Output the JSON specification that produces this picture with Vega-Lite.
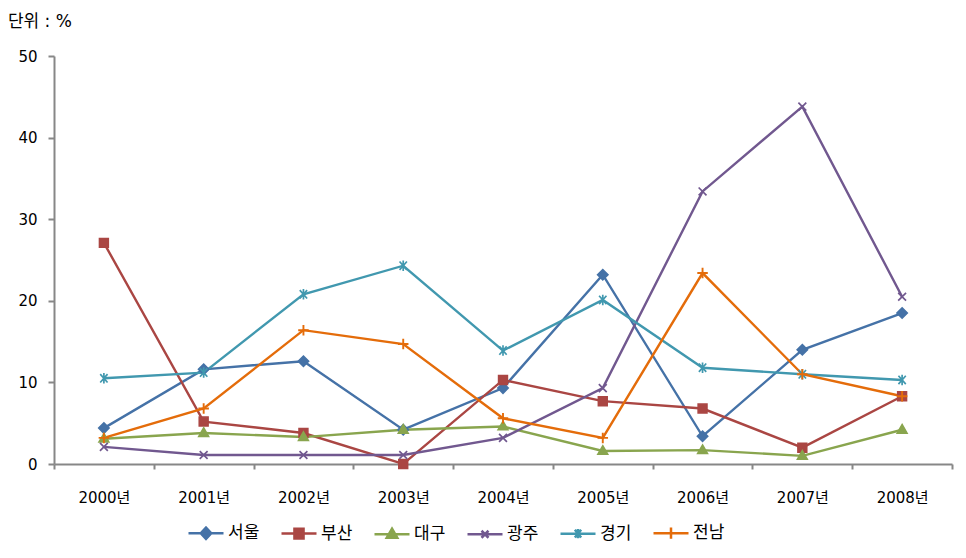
{
  "$schema": "https://vega.github.io/schema/vega-lite/v6.json",
  "width": 898,
  "height": 408,
  "autosize": "none",
  "padding": {"left": 54, "top": 56, "right": 14, "bottom": 94},
  "background": "white",
  "title": {
    "text": "단위 : %",
    "anchor": "start",
    "frame": "bounds",
    "dx": -10,
    "offset": 18,
    "fontSize": 17,
    "fontWeight": "normal",
    "font": "DejaVu Sans, Noto Sans CJK KR",
    "color": "#000000"
  },
  "config": {
    "view": {"stroke": null},
    "font": "DejaVu Sans, Noto Sans CJK KR"
  },
  "data": {
    "values": [
      {"year": "2000년", "region": "서울", "value": 4.4},
      {"year": "2001년", "region": "서울", "value": 11.6},
      {"year": "2002년", "region": "서울", "value": 12.6},
      {"year": "2003년", "region": "서울", "value": 4.2},
      {"year": "2004년", "region": "서울", "value": 9.3},
      {"year": "2005년", "region": "서울", "value": 23.2},
      {"year": "2006년", "region": "서울", "value": 3.4},
      {"year": "2007년", "region": "서울", "value": 14.0},
      {"year": "2008년", "region": "서울", "value": 18.5},
      {"year": "2000년", "region": "부산", "value": 27.1},
      {"year": "2001년", "region": "부산", "value": 5.2},
      {"year": "2002년", "region": "부산", "value": 3.8},
      {"year": "2003년", "region": "부산", "value": 0.0},
      {"year": "2004년", "region": "부산", "value": 10.3},
      {"year": "2005년", "region": "부산", "value": 7.7},
      {"year": "2006년", "region": "부산", "value": 6.8},
      {"year": "2007년", "region": "부산", "value": 2.0},
      {"year": "2008년", "region": "부산", "value": 8.3},
      {"year": "2000년", "region": "대구", "value": 3.1},
      {"year": "2001년", "region": "대구", "value": 3.8},
      {"year": "2002년", "region": "대구", "value": 3.3},
      {"year": "2003년", "region": "대구", "value": 4.2},
      {"year": "2004년", "region": "대구", "value": 4.6},
      {"year": "2005년", "region": "대구", "value": 1.6},
      {"year": "2006년", "region": "대구", "value": 1.7},
      {"year": "2007년", "region": "대구", "value": 1.0},
      {"year": "2008년", "region": "대구", "value": 4.2},
      {"year": "2000년", "region": "광주", "value": 2.1},
      {"year": "2001년", "region": "광주", "value": 1.1},
      {"year": "2002년", "region": "광주", "value": 1.1},
      {"year": "2003년", "region": "광주", "value": 1.1},
      {"year": "2004년", "region": "광주", "value": 3.2},
      {"year": "2005년", "region": "광주", "value": 9.3},
      {"year": "2006년", "region": "광주", "value": 33.4},
      {"year": "2007년", "region": "광주", "value": 43.8},
      {"year": "2008년", "region": "광주", "value": 20.5},
      {"year": "2000년", "region": "경기", "value": 10.5},
      {"year": "2001년", "region": "경기", "value": 11.2},
      {"year": "2002년", "region": "경기", "value": 20.8},
      {"year": "2003년", "region": "경기", "value": 24.3},
      {"year": "2004년", "region": "경기", "value": 13.9},
      {"year": "2005년", "region": "경기", "value": 20.1},
      {"year": "2006년", "region": "경기", "value": 11.8},
      {"year": "2007년", "region": "경기", "value": 11.0},
      {"year": "2008년", "region": "경기", "value": 10.3},
      {"year": "2000년", "region": "전남", "value": 3.2},
      {"year": "2001년", "region": "전남", "value": 6.8},
      {"year": "2002년", "region": "전남", "value": 16.4},
      {"year": "2003년", "region": "전남", "value": 14.7},
      {"year": "2004년", "region": "전남", "value": 5.6},
      {"year": "2005년", "region": "전남", "value": 3.2},
      {"year": "2006년", "region": "전남", "value": 23.4},
      {"year": "2007년", "region": "전남", "value": 11.0},
      {"year": "2008년", "region": "전남", "value": 8.3}
    ]
  },
  "encoding": {
    "x": {
      "field": "year",
      "type": "nominal",
      "sort": null,
      "scale": {"paddingInner": 0, "paddingOuter": 0},
      "axis": {
        "title": null,
        "labelAngle": 0,
        "tickBand": "extent",
        "domainColor": "#878787",
        "domainWidth": 2,
        "tickColor": "#878787",
        "tickWidth": 2,
        "tickSize": 5,
        "labelPadding": 21,
        "labelFontSize": 15,
        "labelColor": "#000000",
        "labelFont": "DejaVu Sans, Noto Sans CJK KR"
      }
    },
    "y": {
      "field": "value",
      "type": "quantitative",
      "scale": {"domain": [0, 50], "nice": false},
      "axis": {
        "title": null,
        "values": [0, 10, 20, 30, 40, 50],
        "grid": false,
        "domainColor": "#878787",
        "domainWidth": 2,
        "tickColor": "#878787",
        "tickWidth": 2,
        "tickSize": 6,
        "labelPadding": 11,
        "labelFontSize": 15,
        "labelColor": "#000000",
        "labelFont": "DejaVu Sans, Noto Sans CJK KR"
      }
    },
    "color": {
      "field": "region",
      "type": "nominal",
      "sort": ["서울", "부산", "대구", "광주", "경기", "전남"],
      "scale": {
        "domain": ["서울", "부산", "대구", "광주", "경기", "전남"],
        "range": ["#4572A7", "#AA4643", "#89A54E", "#71588F", "#4198AF", "#E46C0A"]
      },
      "legend": {
        "title": null,
        "orient": "none",
        "legendX": 133,
        "legendY": 458,
        "direction": "horizontal",
        "symbolSize": 1225,
        "symbolStrokeWidth": 2.5,
        "labelFontSize": 17,
        "labelColor": "#000000",
        "labelFont": "Noto Sans CJK KR",
        "labelOffset": 3,
        "columnPadding": 16,
        "encode": {
          "symbols": {
            "update": {
              "shape": {"signal": "datum.value === '서울' ? 'M-1,0H1M0,-0.32L0.3,0L0,0.32L-0.3,0Z' : datum.value === '부산' ? 'M-1,0H1M-0.26,-0.28H0.26V0.28H-0.26Z' : datum.value === '대구' ? 'M-1,0H1M0,-0.32L0.3,0.2H-0.3Z' : datum.value === '광주' ? 'M-1,0H1M-0.2,-0.2L0.2,0.2M-0.2,0.2L0.2,-0.2' : datum.value === '경기' ? 'M-1,0H1M-0.18,-0.22L0.18,0.22M-0.18,0.22L0.18,-0.22M0,-0.27V0.27' : 'M-1,0H1M0,-0.32V0.32'"},
              "fill": {"signal": "scale('color', datum.value)"},
              "stroke": {"signal": "scale('color', datum.value)"}
            }
          }
        }
      }
    }
  },
  "layer": [
    {
      "mark": {"type": "line", "strokeWidth": 2.4},
      "encoding": {"detail": {"field": "region"}}
    },
    {
      "transform": [{"filter": "datum.region === '서울'"}],
      "mark": {"type": "point", "filled": true, "size": 110, "stroke": "#4572A7", "strokeWidth": 1.5, "opacity": 1, "shape": "M0,-1L1,0L0,1L-1,0Z"}
    },
    {
      "transform": [{"filter": "datum.region === '부산'"}],
      "mark": {"type": "point", "filled": true, "size": 110, "stroke": "#AA4643", "strokeWidth": 1.5, "opacity": 1, "shape": "M-0.85,-0.85H0.85V0.85H-0.85Z"}
    },
    {
      "transform": [{"filter": "datum.region === '대구'"}],
      "mark": {"type": "point", "filled": true, "size": 110, "stroke": "#89A54E", "strokeWidth": 1.5, "opacity": 1, "shape": "M0,-1L0.95,0.65H-0.95Z"}
    },
    {
      "transform": [{"filter": "datum.region === '광주'"}],
      "mark": {"type": "point", "filled": true, "size": 110, "stroke": "#71588F", "strokeWidth": 1.7, "opacity": 1, "shape": "M-0.75,-0.75L0.75,0.75M-0.75,0.75L0.75,-0.75"}
    },
    {
      "transform": [{"filter": "datum.region === '경기'"}],
      "mark": {"type": "point", "filled": true, "size": 110, "stroke": "#4198AF", "strokeWidth": 1.7, "opacity": 1, "shape": "M-0.7,-0.8L0.7,0.8M-0.7,0.8L0.7,-0.8M0,-1V1"}
    },
    {
      "transform": [{"filter": "datum.region === '전남'"}],
      "mark": {"type": "point", "filled": true, "size": 110, "stroke": "#E46C0A", "strokeWidth": 1.9, "opacity": 1, "shape": "M-1,0H1M0,-1V1"}
    }
  ]
}
